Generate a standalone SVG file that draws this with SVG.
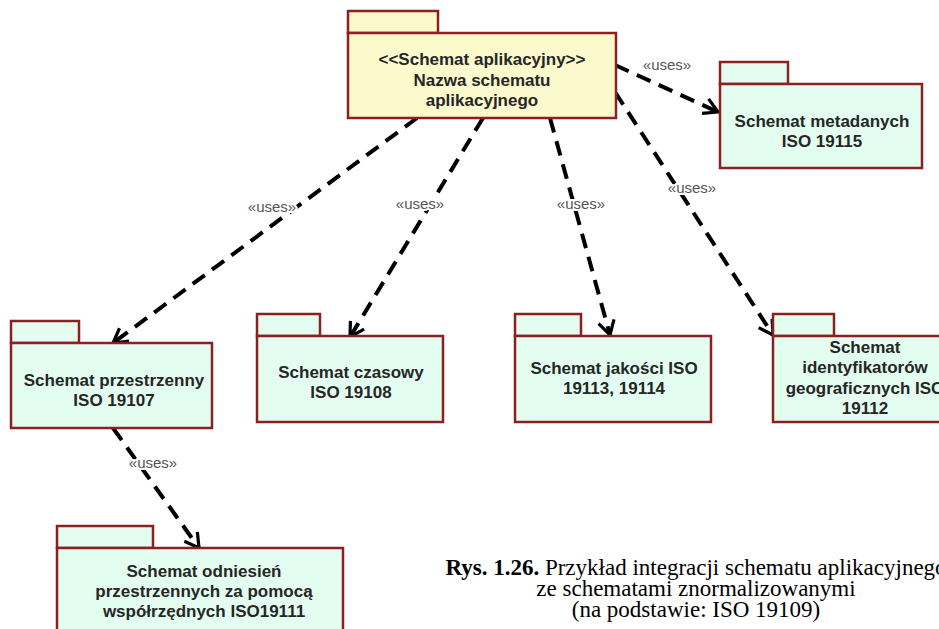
<svg xmlns="http://www.w3.org/2000/svg" width="939" height="629" viewBox="0 0 939 629">
  <style>
    .pkg rect { stroke: #8c2020; stroke-width: 2.5; }
    .app rect { fill: #fcf9cd; }
    .std rect { fill: #e3fdf0; }
    .name { font-family: "Liberation Sans", Arial, sans-serif; font-weight: bold; font-size: 17px; fill: #262626; text-anchor: middle; }
    .dep { fill: none; stroke: #000; stroke-width: 4; stroke-dasharray: 15 9; marker-end: url(#open); }
    .lbl { font-family: "Liberation Sans", Arial, sans-serif; font-size: 15px; fill: #555; text-anchor: middle; stroke: #fff; stroke-width: 4; paint-order: stroke; }
    .cap { font-family: "Liberation Serif", "Times New Roman", serif; font-size: 23px; fill: #000; text-anchor: middle; }
  </style>
  <defs>
    <marker id="open" viewBox="-18 -12 24 24" markerWidth="24" markerHeight="24" refX="0" refY="0" markerUnits="userSpaceOnUse" orient="auto" overflow="visible">
      <path d="M-14,-8 L0,0 L-14,8" fill="none" stroke="#000" stroke-width="3.2" stroke-dasharray="none" stroke-linejoin="miter"/>
    </marker>
  </defs>
  <rect x="0" y="0" width="939" height="629" fill="#fff"/>

  <!-- dependency connectors -->
  <g id="connectors">
    <path class="dep" d="M615,65 L718,112"/>
    <path class="dep" d="M615,92 L773,335"/>
    <path class="dep" d="M550,118 L610,335"/>
    <path class="dep" d="M483,118 L350,337"/>
    <path class="dep" d="M417,118 L113,343"/>
    <path class="dep" d="M113,428 L199,548"/>
    <text class="lbl" x="667" y="70">«uses»</text>
    <text class="lbl" x="692" y="193">«uses»</text>
    <text class="lbl" x="581" y="209">«uses»</text>
    <text class="lbl" x="420" y="209">«uses»</text>
    <text class="lbl" x="272" y="212">«uses»</text>
    <text class="lbl" x="153" y="468">«uses»</text>
  </g>

  <g id="application-schema" class="pkg app">
    <rect x="348" y="11" width="90" height="22"/>
    <rect x="348" y="33" width="268" height="85"/>
    <text class="name" x="482" y="65">&lt;&lt;Schemat aplikacyjny&gt;&gt;</text>
    <text class="name" x="482" y="86">Nazwa schematu</text>
    <text class="name" x="482" y="106">aplikacyjnego</text>
  </g>

  <g id="metadata-schema" class="pkg std">
    <rect x="720" y="62" width="68" height="22"/>
    <rect x="720" y="84" width="202" height="84"/>
    <text class="name" x="822" y="127">Schemat metadanych</text>
    <text class="name" x="822" y="147">ISO 19115</text>
  </g>

  <g id="spatial-schema" class="pkg std">
    <rect x="11" y="321" width="68" height="22"/>
    <rect x="11" y="343" width="201" height="85"/>
    <text class="name" x="114" y="386">Schemat przestrzenny</text>
    <text class="name" x="114" y="406">ISO 19107</text>
  </g>

  <g id="temporal-schema" class="pkg std">
    <rect x="257" y="314" width="63" height="22"/>
    <rect x="257" y="336" width="186" height="86"/>
    <text class="name" x="351" y="378">Schemat czasowy</text>
    <text class="name" x="351" y="398">ISO 19108</text>
  </g>

  <g id="quality-schema" class="pkg std">
    <rect x="515" y="314" width="66" height="22"/>
    <rect x="515" y="336" width="196" height="86"/>
    <text class="name" x="614" y="374">Schemat jakości ISO</text>
    <text class="name" x="614" y="394">19113, 19114</text>
  </g>

  <g id="identifiers-schema" class="pkg std">
    <rect x="773" y="314" width="61" height="22"/>
    <rect x="773" y="336" width="184" height="86"/>
    <text class="name" x="865" y="353">Schemat</text>
    <text class="name" x="865" y="373">identyfikatorów</text>
    <text class="name" x="865" y="394">geograficznych ISO</text>
    <text class="name" x="865" y="414">19112</text>
  </g>

  <g id="crs-schema" class="pkg std">
    <rect x="57" y="526" width="96" height="22"/>
    <rect x="57" y="548" width="286" height="95"/>
    <text class="name" x="204" y="577">Schemat odniesień</text>
    <text class="name" x="204" y="597">przestrzennych za pomocą</text>
    <text class="name" x="204" y="617">współrzędnych ISO19111</text>
  </g>

  <g id="caption">
    <text class="cap" x="696" y="575"><tspan font-weight="bold">Rys. 1.26.</tspan> Przykład integracji schematu aplikacyjnego</text>
    <text class="cap" x="696" y="596">ze schematami znormalizowanymi</text>
    <text class="cap" x="696" y="617">(na podstawie: ISO 19109)</text>
  </g>
</svg>
